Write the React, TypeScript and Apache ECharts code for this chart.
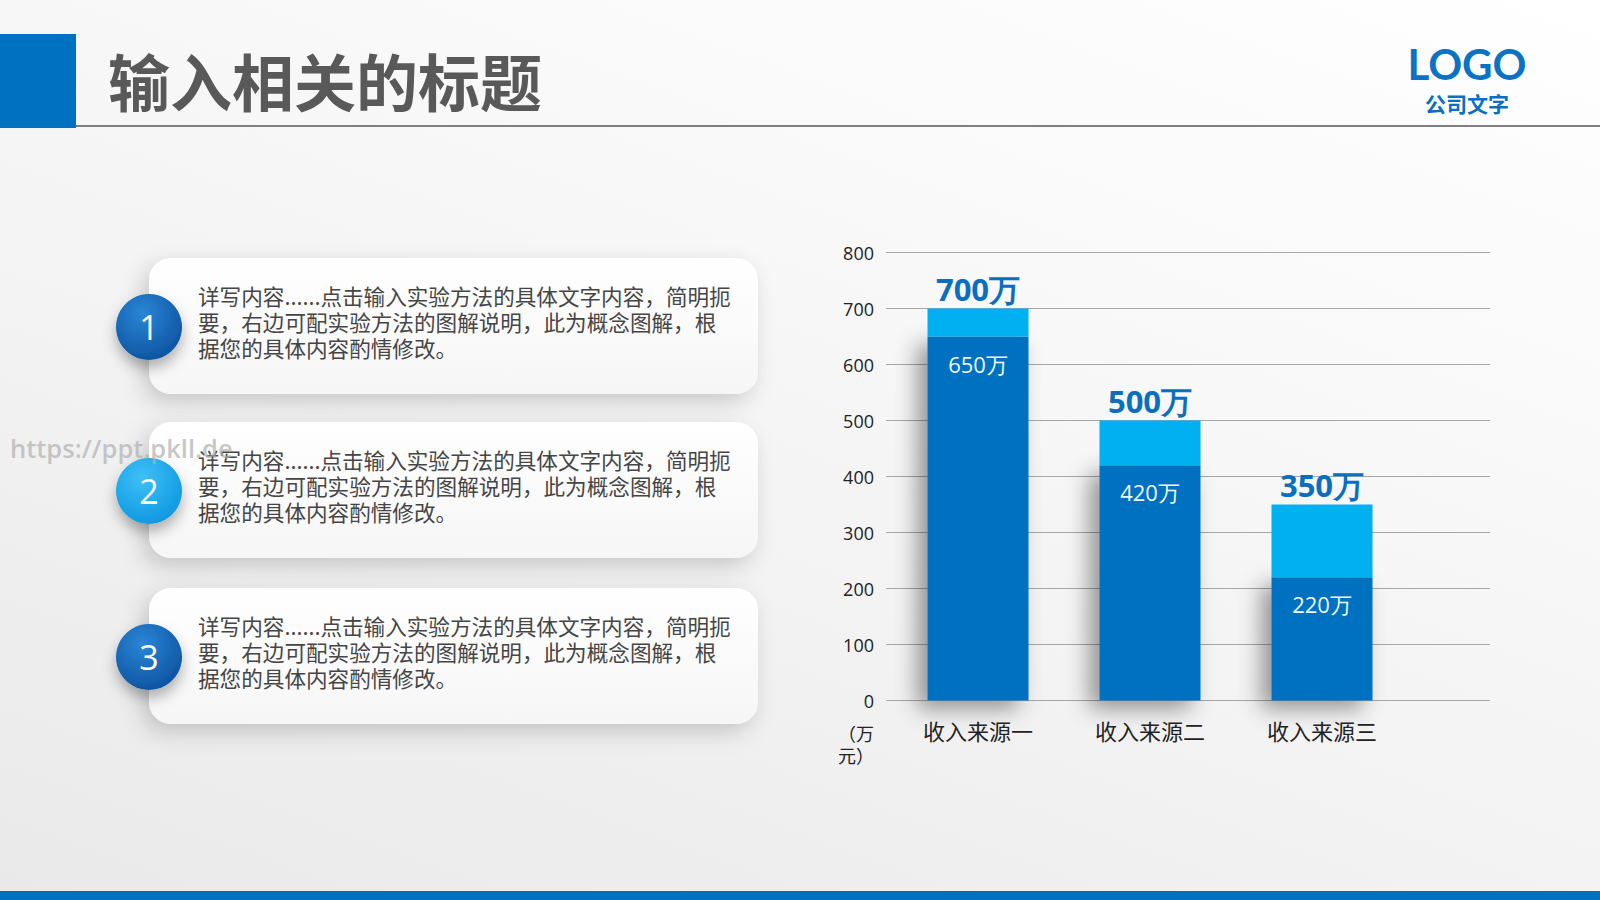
import React, { useEffect, useRef } from "react";
import * as echarts from "echarts";

const categories = ["收入来源一", "收入来源二", "收入来源三"];
const totals = [700, 500, 350];
const innerValues = [650, 420, 220];
const yTicks = { min: 0, max: 800, interval: 100 };
const unitLines = ["（万", "元）"];
const title = "输入相关的标题";
const logoText = "LOGO";
const logoSub = "公司文字";
const cardLines = [
  "详写内容......点击输入实验方法的具体文字内容，简明扼",
  "要，右边可配实验方法的图解说明，此为概念图解，根",
  "据您的具体内容酌情修改。",
];
const cardNumbers = ["1", "2", "3"];
const watermark = "https://ppt.pkll.de";

const CJK = "'Noto Sans CJK SC', 'Noto Sans', sans-serif";
const NUM = "'Open Sans', 'Noto Sans', sans-serif";
const DARK = "#0070C0";
const LIGHT = "#00B0F0";

export default function App() {
  const ref = useRef<HTMLDivElement>(null);
  useEffect(() => {
    if (!ref.current) return;
    const chart = echarts.init(ref.current, null, { renderer: "svg" });
    const extra = totals.map((t, i) => t - innerValues[i]);

    const cardTops = [258, 422, 588];
    const circleColors = [
      ["#2a86d6", "#0a4f9c"],
      ["#3fc0f7", "#0a94de"],
      ["#2a86d6", "#0a4f9c"],
    ];
    const cards: any[] = [];
    cardTops.forEach((top, i) => {
      cards.push({
        type: "rect",
        shape: { x: 149, y: top, width: 609, height: 136, r: 22 },
        style: {
          fill: new echarts.graphic.LinearGradient(0, 0, 0, 1, [
            { offset: 0, color: "#ffffff" },
            { offset: 1, color: "#f6f6f7" },
          ]),
          shadowBlur: 22,
          shadowOffsetX: -6,
          shadowOffsetY: 8,
          shadowColor: "rgba(0,0,0,0.18)",
        },
        z: 1,
      });
      const cy = top + 69;
      cards.push({
        type: "circle",
        shape: { cx: 149, cy, r: 33 },
        style: {
          fill: new echarts.graphic.RadialGradient(0.4, 0.3, 0.8, [
            { offset: 0, color: circleColors[i][0] },
            { offset: 1, color: circleColors[i][1] },
          ]),
          shadowBlur: 14,
          shadowOffsetX: 0,
          shadowOffsetY: 8,
          shadowColor: "rgba(0,0,0,0.3)",
        },
        z: 2,
      });
      cards.push({
        type: "text",
        x: 149,
        y: cy,
        style: {
          text: cardNumbers[i],
          fill: "#ffffff",
          font: `34px ${NUM}`,
          textAlign: "center",
          textVerticalAlign: "middle",
        },
        z: 3,
      });
      cardLines.forEach((line, j) => {
        cards.push({
          type: "text",
          x: 198,
          y: top + 37 + j * 26.2,
          style: {
            text: line,
            fill: "#454545",
            font: `21.6px ${CJK}`,
            textAlign: "left",
            textVerticalAlign: "middle",
          },
          z: 3,
        });
      });
    });

    chart.setOption({
      animation: false,
      grid: [
        { left: 886, right: 110, top: 252.5, bottom: 199.5 },
        { left: 892, width: 516, top: 252.5, bottom: 199.5 },
      ],
      xAxis: [
        {
          gridIndex: 0,
          type: "category",
          data: categories,
          show: false,
        },
        {
          gridIndex: 1,
          type: "category",
          data: categories,
          axisLine: { show: false },
          axisTick: { show: false },
          axisLabel: {
            color: "#222",
            fontSize: 22,
            fontFamily: CJK,
            margin: 18,
          },
        },
      ],
      yAxis: [
        {
          gridIndex: 0,
          type: "value",
          min: yTicks.min,
          max: yTicks.max,
          interval: yTicks.interval,
          axisLine: { show: false },
          axisTick: { show: false },
          axisLabel: { color: "#222", fontSize: 18, fontFamily: NUM, margin: 12 },
          splitLine: { lineStyle: { color: "#a6a6a6", width: 1 } },
        },
        {
          gridIndex: 1,
          type: "value",
          min: yTicks.min,
          max: yTicks.max,
          interval: yTicks.interval,
          show: false,
          splitLine: { show: false },
        },
      ],
      series: [
        {
          type: "bar",
          xAxisIndex: 1,
          yAxisIndex: 1,
          stack: "s",
          data: innerValues,
          barWidth: 101,
          itemStyle: {
            color: DARK,
            shadowBlur: 22,
            shadowOffsetX: -10,
            shadowOffsetY: 8,
            shadowColor: "rgba(0,0,0,0.4)",
          },
          label: {
            show: true,
            position: "insideTop",
            distance: 16,
            color: "#eef8ff",
            fontSize: 22,
            fontFamily: NUM,
            formatter: (p: any) => p.value + "万",
          },
          z: 3,
        },
        {
          type: "bar",
          xAxisIndex: 1,
          yAxisIndex: 1,
          stack: "s",
          data: extra,
          barWidth: 101,
          itemStyle: { color: LIGHT },
          label: {
            show: true,
            position: "top",
            distance: 4,
            color: "#0b6fbe",
            fontSize: 31,
            fontWeight: "bold",
            fontFamily: NUM,
            formatter: (p: any) => totals[p.dataIndex] + "万",
          },
          z: 3,
        },
      ],
      graphic: [
        {
          type: "rect",
          shape: { x: 0, y: 891, width: 1600, height: 9 },
          style: { fill: DARK },
        },
        {
          type: "rect",
          shape: { x: 0, y: 34, width: 76, height: 94 },
          style: { fill: DARK },
        },
        {
          type: "line",
          shape: { x1: 76, y1: 126, x2: 1600, y2: 126 },
          style: { stroke: "#7f7f7f", lineWidth: 2 },
        },
        {
          type: "text",
          x: 108,
          y: 80,
          style: {
            text: title,
            fill: "#595959",
            font: `bold 62px ${CJK}`,
            textAlign: "left",
            textVerticalAlign: "middle",
          },
        },
        {
          type: "text",
          x: 1467,
          y: 64,
          style: {
            text: logoText,
            fill: "#0c72c4",
            font: `bold 42px Lato, ${NUM}`,
            textAlign: "center",
            textVerticalAlign: "middle",
          },
        },
        {
          type: "text",
          x: 1467,
          y: 103,
          style: {
            text: logoSub,
            fill: "#0a6fc2",
            font: `bold 21px ${CJK}`,
            textAlign: "center",
            textVerticalAlign: "middle",
          },
        },
        ...cards,
        {
          type: "text",
          x: 10,
          y: 448,
          style: {
            text: watermark,
            fill: "rgba(175,175,175,0.7)",
            font: `600 25.5px ${NUM}`,
            textAlign: "left",
            textVerticalAlign: "middle",
          },
          z: 10,
        },
        ...unitLines.map((t, i) => ({
          type: "text",
          x: 838,
          y: 733 + i * 22,
          style: {
            text: t,
            fill: "#222",
            font: `18px ${CJK}`,
            textAlign: "left",
            textVerticalAlign: "middle",
          },
        })),
      ],
    });
    return () => chart.dispose();
  }, []);

  return (
    <div
      ref={ref}
      style={{
        position: "fixed",
        left: 0,
        top: 0,
        width: 1600,
        height: 900,
        background: "linear-gradient(200deg, #ffffff 0%, #f6f6f7 45%, #e9e9ea 100%)",
      }}
    />
  );
}
